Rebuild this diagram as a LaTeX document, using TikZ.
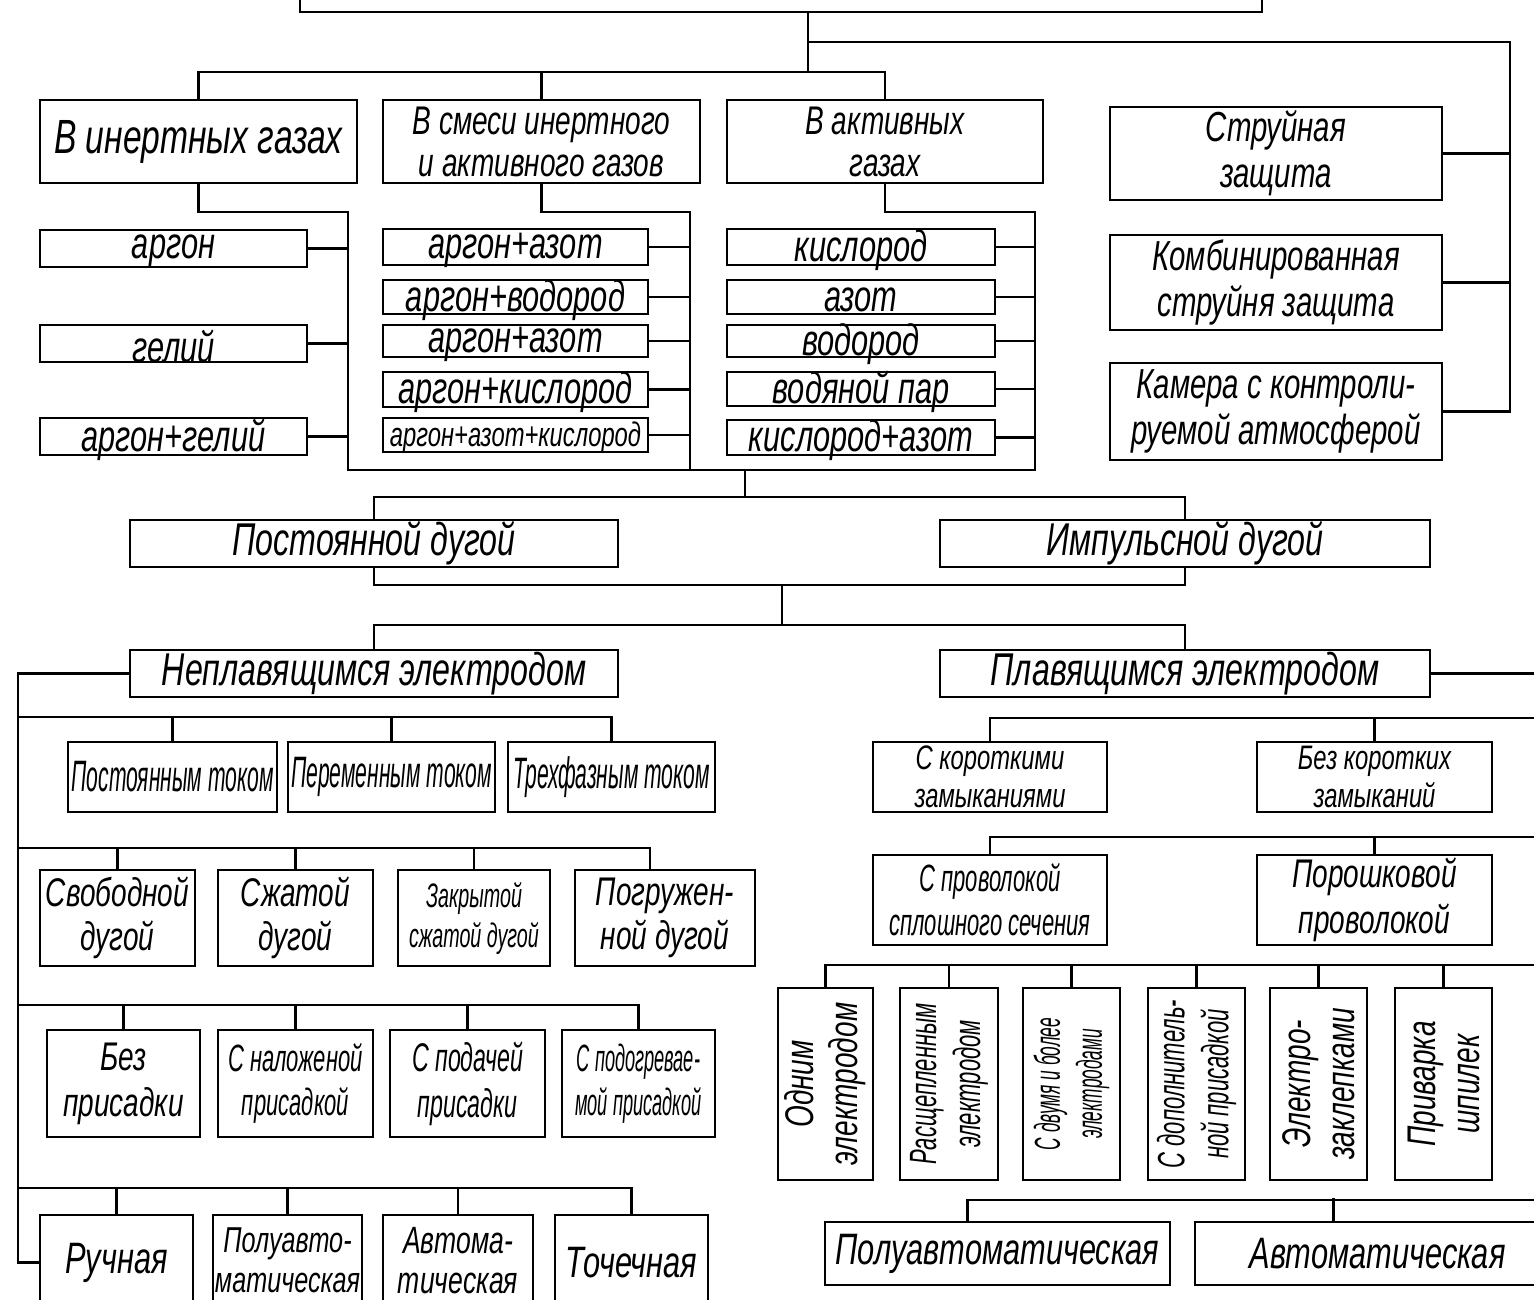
\documentclass[tikz,border=0pt]{standalone}
\usepackage{fontspec}
\newfontfamily\gfa[FakeStretch=0.70]{Liberation Sans}
\newfontfamily\gfb[FakeStretch=0.58]{Liberation Sans}
\newfontfamily\gfc[FakeStretch=0.48]{Liberation Sans}
\newcommand\fA[2]{\gfa\itshape\fontsize{#1}{#2}\selectfont\lineskiplimit=-1000pt\lineskip=0pt}
\newcommand\fB[2]{\gfb\itshape\fontsize{#1}{#2}\selectfont\lineskiplimit=-1000pt\lineskip=0pt}
\newcommand\fC[2]{\gfc\itshape\fontsize{#1}{#2}\selectfont\lineskiplimit=-1000pt\lineskip=0pt}
\tikzset{
  box/.style={draw=black, line width=2.6pt, inner sep=0pt, fill=white},
  lbl/.style={inner sep=0pt, align=center, text=black},
  gas/.style={yshift=-3pt},
  conn/.style={draw=black, line width=2.4pt, line cap=rect}
}
% \bx[label opts]{name}{x1}{y1}{x2}{y2}{font}{text}
\newcommand\bx[8][]{%
  \node[box,minimum width={(#5-#3)*1pt},minimum height={(#6-#4)*1pt}] (#2) at ({(#3+#5)/2},{(#4+#6)/2}) {};
  \node[lbl,font=#7,#1] (#2-t) at (#2.center) {#8};%
}
\begin{document}
\begin{tikzpicture}[x=1pt,y=-1pt]
\fill[white] (0,0) rectangle (1534,1300);
\useasboundingbox (0,0) rectangle (1534,1300);

\coordinate (j0) at (808,72);
\coordinate (j1) at (1510,42);
\coordinate (g1) at (348,212);
\coordinate (g2) at (690,212);
\coordinate (g3) at (1035,212);
\coordinate (h)  at (745,470);
\coordinate (j2) at (745,497);
\coordinate (j3) at (782,585);
\coordinate (j4) at (782,625);
\coordinate (L)  at (18,1262.5);
\coordinate (R1) at (18,717);
\coordinate (R2) at (18,848);
\coordinate (R3) at (18,1005);
\coordinate (R4) at (18,1188);
\coordinate (S1) at (1545,718);
\coordinate (S2) at (1545,837);
\coordinate (S3) at (1545,965);
\coordinate (RR) at (1545,1200);

% ---------- boxes ----------
\node[box, minimum width=962pt, minimum height=90pt] (top) at (781,-33) {};

\bx{b1}{40}{100}{357}{183}{\fA{48}{40}}{В инертных газах}
\bx{b2}{383}{100}{700}{183}{\fA{40}{42}}{В смеси инертного\\и активного газов}
\bx{b3}{727}{100}{1043}{183}{\fA{40}{42}}{В активных\\газах}
\bx{r1}{1110}{107}{1442}{200}{\fA{42}{46}}{Струйная\\защита}
\bx{r2}{1110}{235}{1442}{330}{\fA{42}{46}}{Комбинированная\\струйня защита}
\bx{r3}{1110}{363}{1442}{460}{\fA{42}{46}}{Камера с контроли-\\руемой атмосферой}

\bx[gas]{a1}{40}{230}{307}{267}{\fA{44}{40}}{аргон}
\bx[gas]{a2}{40}{325}{307}{362}{\fA{44}{40}}{гелий}
\bx[gas]{a3}{40}{418}{307}{455}{\fA{44}{40}}{аргон+гелий}

\bx[gas]{m1}{383}{229}{648}{265}{\fA{44}{40}}{аргон+азот}
\bx[gas]{m2}{383}{280}{648}{314}{\fA{44}{40}}{аргон+водород}
\bx[gas]{m3}{383}{325}{648}{357}{\fA{44}{40}}{аргон+азот}
\bx[gas]{m4}{383}{372}{648}{407}{\fA{44}{40}}{аргон+кислород}
\bx[gas]{m5}{383}{418}{648}{452}{\fA{34}{34}}{аргон+азот+кислород}

\bx[gas]{k1}{727}{229}{995}{265}{\fA{44}{40}}{кислород}
\bx[gas]{k2}{727}{280}{995}{314}{\fA{44}{40}}{азот}
\bx[gas]{k3}{727}{325}{995}{357}{\fA{44}{40}}{водород}
\bx[gas]{k4}{727}{372}{995}{406}{\fA{44}{40}}{водяной пар}
\bx[gas]{k5}{727}{420}{995}{455}{\fA{44}{40}}{кислород+азот}

\bx{d1}{130}{520}{618}{567}{\fA{46}{40}}{Постоянной дугой}
\bx{d2}{940}{520}{1430}{567}{\fA{46}{40}}{Импульсной дугой}
\bx{e1}{130}{650}{618}{697}{\fA{46}{40}}{Неплавящимся электродом}
\bx{e2}{940}{650}{1430}{697}{\fA{46}{40}}{Плавящимся электродом}

\bx{t1}{68}{742}{277}{812}{\fC{44}{40}}{Постоянным током}
\bx{t2}{288}{742}{495}{812}{\fC{44}{40}}{Переменным током}
\bx{t3}{508}{742}{715}{812}{\fC{44}{40}}{Трехфазным током}

\bx{s1}{40}{870}{195}{966}{\fA{40}{44}}{Свободной\\дугой}
\bx{s2}{218}{870}{373}{966}{\fA{40}{44}}{Сжатой\\дугой}
\bx{s3}{398}{870}{550}{966}{\fB{34}{40}}{Закрытой\\сжатой дугой}
\bx{s4}{575}{870}{755}{966}{\fA{40}{44}}{Погружен-\\ной дугой}

\bx{q1}{47}{1030}{200}{1137}{\fA{40}{46}}{Без\\присадки}
\bx{q2}{218}{1030}{373}{1137}{\fB{38}{44}}{С наложеной\\присадкой}
\bx{q3}{390}{1030}{545}{1137}{\fB{40}{46}}{С подачей\\присадки}
\bx{q4}{562}{1030}{715}{1137}{\fC{38}{44}}{С подогревае-\\мой присадкой}

\bx{p1}{40}{1215}{193}{1310}{\fA{44}{42}}{Ручная}
\bx[yshift=2pt]{p2}{213}{1215}{362}{1310}{\fA{36}{40}}{Полуавто-\\матическая}
\bx[yshift=2pt]{p3}{383}{1215}{533}{1310}{\fA{38}{40}}{Автома-\\тическая}
\bx{p4}{555}{1215}{708}{1310}{\fA{44}{42}}{Точечная}

\bx{f1}{873}{742}{1107}{812}{\fA{34}{38}}{С короткими\\замыканиями}
\bx{f2}{1257}{742}{1492}{812}{\fA{34}{38}}{Без коротких\\замыканий}
\bx{w1}{873}{855}{1107}{945}{\fB{38}{44}}{С проволокой\\сплошного сечения}
\bx{w2}{1257}{855}{1492}{945}{\fA{40}{46}}{Порошковой\\проволокой}

\bx[rotate=90]{v1}{778}{988}{873}{1180}{\fA{40}{44}}{Одним\\электродом}
\bx[rotate=90]{v2}{900}{988}{998}{1180}{\fB{38}{44}}{Расщепленным\\электродом}
\bx[rotate=90]{v3}{1023}{988}{1120}{1180}{\fC{36}{42}}{С двумя и более\\электродами}
\bx[rotate=90]{v4}{1148}{988}{1245}{1180}{\fB{38}{44}}{С дополнитель-\\ной присадкой}
\bx[rotate=90]{v5}{1270}{988}{1367}{1180}{\fA{40}{44}}{Электро-\\заклепками}
\bx[rotate=90]{v6}{1395}{988}{1492}{1180}{\fA{40}{44}}{Приварка\\шпилек}

\bx{u1}{825}{1222}{1170}{1285}{\fA{44}{40}}{Полуавтоматическая}
\bx{u2}{1195}{1222}{1560}{1285}{\fA{44}{40}}{Автоматическая}

% ---------- connectors ----------
\draw[conn] ([xshift=27pt]top.south) -- (j0);
\draw[conn] (b1.north) |- (j0) -| (b3.north);
\draw[conn] (b2.north) -- (b2.north |- j0);
\draw[conn] (j0 |- j1) -- (j1) |- (r3.east);
\draw[conn] (r1.east) -- (r1.east -| j1);
\draw[conn] (r2.east) -- (r2.east -| j1);

\draw[conn] (b1.south) |- (g1) -- (g1 |- h) -- (g3 |- h) -- (g3) -| (b3.south);
\draw[conn] (b2.south) |- (g2) -- (g2 |- h);
\foreach \n in {a1,a2,a3} \draw[conn] (\n.east) -- (\n.east -| g1);
\foreach \n in {m1,m2,m3,m4,m5} \draw[conn] (\n.east) -- (\n.east -| g2);
\foreach \n in {k1,k2,k3,k4,k5} \draw[conn] (\n.east) -- (\n.east -| g3);

\draw[conn] (h) -- (j2);
\draw[conn] (d1.north) |- (j2) -| (d2.north);
\draw[conn] (d1.south) |- (j3) -| (d2.south);
\draw[conn] (j3) -- (j4);
\draw[conn] (e1.north) |- (j4) -| (e2.north);

% left branch
\draw[conn] (e1.west) -| (L) -- (p1.west);
\draw[conn] (R1) -| (t3.north);
\foreach \n in {t1,t2} \draw[conn] (\n.north) -- (\n.north |- R1);
\draw[conn] (R2) -| ([xshift=-15pt]s4.north);
\foreach \n in {s1,s2,s3} \draw[conn] (\n.north) -- (\n.north |- R2);
\draw[conn] (R3) -| (q4.north);
\foreach \n in {q1,q2,q3} \draw[conn] (\n.north) -- (\n.north |- R3);
\draw[conn] (R4) -| (p4.north);
\foreach \n in {p1,p2,p3} \draw[conn] (\n.north) -- (\n.north |- R4);

% right branch
\draw[conn] (e2.east) -| (RR);
\draw[conn] (f1.north) |- (S1);
\draw[conn] (f2.north) -- (f2.north |- S1);
\draw[conn] (w1.north) |- (S2);
\draw[conn] (w2.north) -- (w2.north |- S2);
\draw[conn] (v1.north) |- (S3);
\foreach \n in {v2,v3,v4,v5,v6} \draw[conn] (\n.north) -- (\n.north |- S3);
\draw[conn] ([xshift=-30pt]u1.north) |- (RR);
\draw[conn] ([xshift=-44pt]u2.north) -- ++(0,-22);
\end{tikzpicture}
\end{document}
